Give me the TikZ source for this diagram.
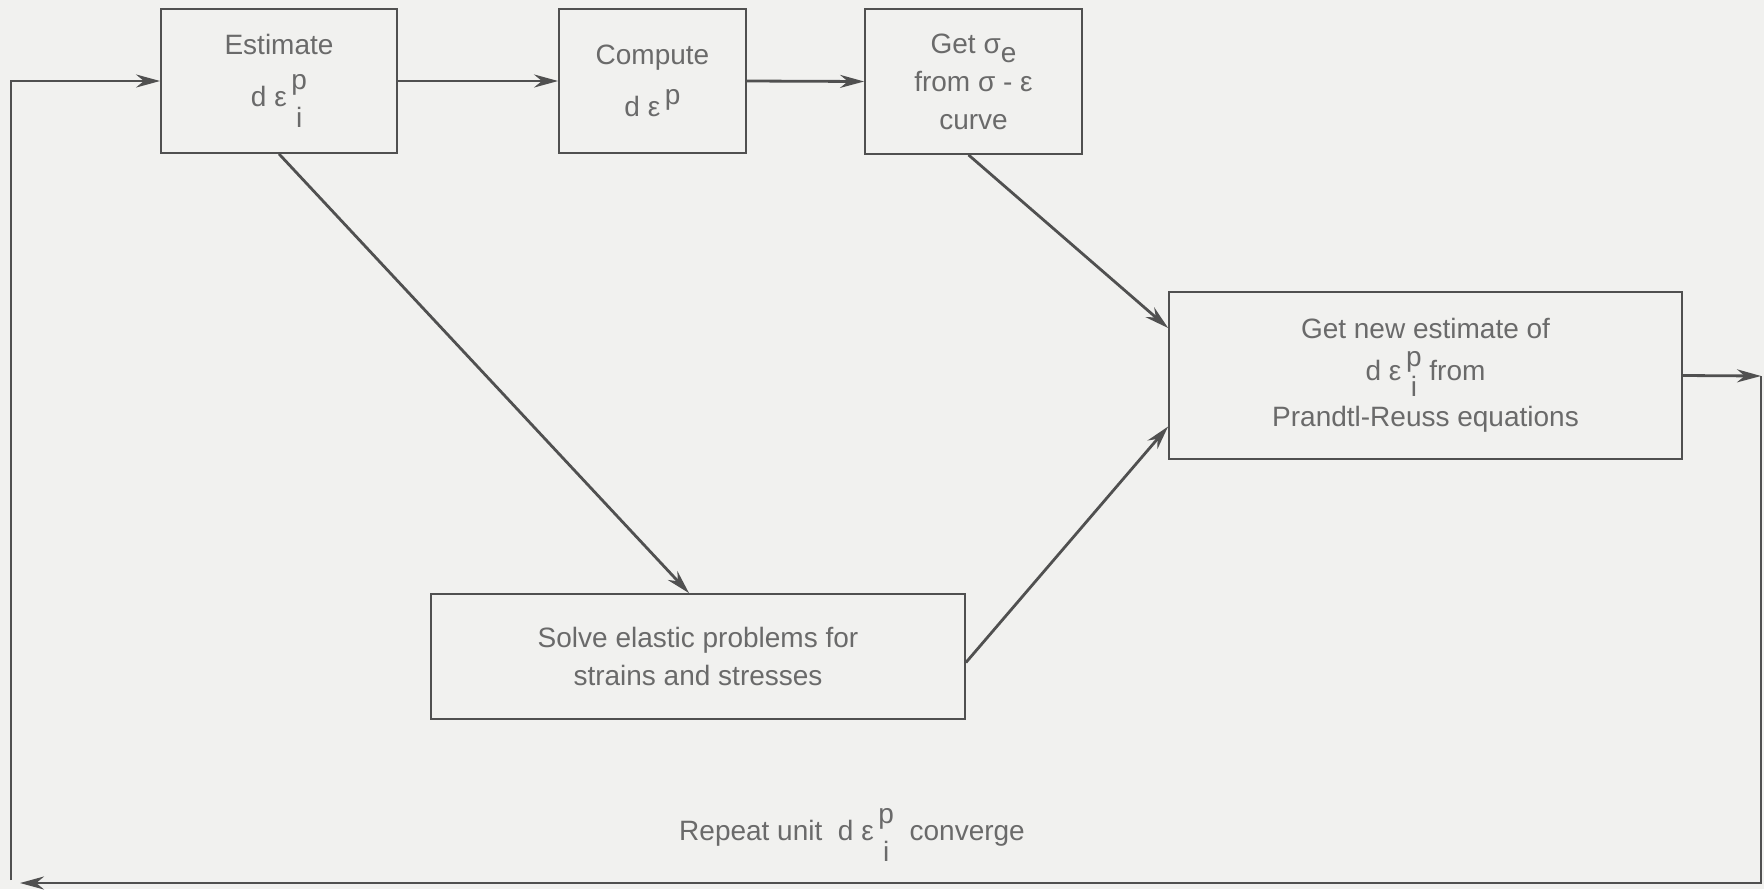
\documentclass[tikz,border=0pt]{standalone}
\usepackage{fontspec}
\setmainfont{Liberation Sans}
\usetikzlibrary{arrows.meta}
\definecolor{bg}{HTML}{F1F1EF}
\definecolor{ln}{HTML}{505050}
\definecolor{tx}{HTML}{6A6A6A}
\newcommand{\pistack}{\ooalign{\raisebox{.6em}{p}\cr\hfil\raisebox{-.75em}{i}\hfil\cr}}
\newcommand{\pistacksm}{\ooalign{\raisebox{.5em}{p}\cr\hfil\raisebox{-.55em}{i}\hfil\cr}}
\begin{document}
\begin{tikzpicture}[x=0.5pt,y=-0.5pt,
  box/.style={draw=ln, line width=0.9pt, text=tx, align=center, inner sep=0pt,
    font=\fontsize{14}{19}\selectfont},
  arr/.style={draw=ln, line width=1.4pt, -{Stealth[length=12pt,width=6.5pt]}},
  lbl/.style={text=tx, font=\fontsize{14}{19}\selectfont, inner sep=0pt}]
\fill[bg] (0,0) rectangle (1764,889);
\useasboundingbox (0,0) rectangle (1764,889);

\node[box, minimum width=118pt, minimum height=72pt] (est) at (279,81)
  {Estimate\\[7pt] d ε\,\pistack};
\node[box, minimum width=93.5pt, minimum height=72pt] (comp) at (652.5,81)
  {Compute\\[7pt] d ε\,\raisebox{.45em}{p}};
\node[box, minimum width=108.5pt, minimum height=72.5pt] (get) at (973.5,81.5)
  {Get σ\raisebox{-.35em}{e}\\ from σ - ε\\ curve};
\node[box, minimum width=256.5pt, minimum height=83.5pt] (new) at (1425.5,375.5)
  {Get new estimate of\\[2pt] d ε\,\pistacksm\ from\\[4pt] Prandtl-Reuss equations};
\node[box, minimum width=267pt, minimum height=62.5pt] (solve) at (698,656.5)
  {Solve elastic problems for\\ strains and stresses};

\node[lbl] (rep) at (852,835) {Repeat unit \ d ε\,\pistack\ \ converge};

\coordinate (L1) at (11,81);
\coordinate (L0) at (11,880);
\coordinate (R1) at (1761,376);
\coordinate (R2) at (1761,883);
\coordinate (B1) at (20,883);

\draw[arr] (L0) -- (L1) -- (est.west);
\draw[arr] (est.east) -- (comp.west);
\draw[arr] (comp.east) -- (get.west);
\draw[arr] (est.south) -- ([xshift=-4.5pt]solve.north);
\draw[arr] ([xshift=-2.5pt]get.south) -- ([yshift=23.75pt]new.west);
\draw[arr] ([yshift=-3pt]solve.east) -- ([yshift=-25.5pt]new.west);
\draw[arr] (new.east) -- (R1);
\draw[arr] (R1) -- (R2) -- (B1);
\end{tikzpicture}
\end{document}
